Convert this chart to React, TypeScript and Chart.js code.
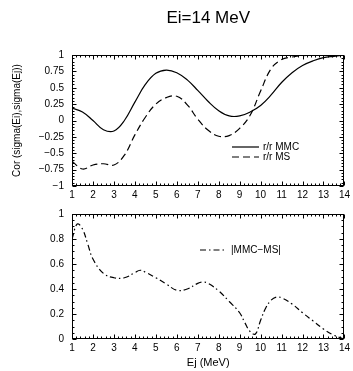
import React, { useEffect, useRef } from "react";
import { Chart, registerables } from "chart.js";

Chart.register(...registerables);

// ---------- data ----------
const TITLE = "Ei=14 MeV";
const Y_TITLE_TOP = "Cor (sigma(Ei),sigma(Ej))";
const X_TITLE = "Ej (MeV)";
const LABEL_MMC = "r/r MMC";
const LABEL_MS = "r/r MS";
const LABEL_DIFF = "|MMC\u2212MS|";

const xTicks = [1, 2, 3, 4, 5, 6, 7, 8, 9, 10, 11, 12, 13, 14];
const yTicksTop = [-1, -0.75, -0.5, -0.25, 0, 0.25, 0.5, 0.75, 1];
const yTicksBottom = [0, 0.2, 0.4, 0.6, 0.8, 1];

const topX = [1, 1.5, 2, 2.5, 3, 3.5, 4, 4.5, 5, 5.5, 6, 6.5, 7, 7.5, 8, 8.5, 9, 9.5, 10, 10.5, 11, 11.5, 12, 12.5, 13, 13.5, 14];
const mmcValues = [0.19, 0.13, 0.0, -0.14, -0.16, 0.0, 0.28, 0.55, 0.72, 0.77, 0.73, 0.62, 0.46, 0.29, 0.15, 0.07, 0.07, 0.13, 0.23, 0.39, 0.58, 0.73, 0.84, 0.91, 0.96, 0.98, 1.0];
const msValues = [-0.62, -0.74, -0.68, -0.66, -0.68, -0.53, -0.22, 0.05, 0.25, 0.35, 0.37, 0.24, 0.02, -0.15, -0.24, -0.23, -0.12, 0.08, 0.45, 0.79, 0.93, 0.97, 0.99, 1.0, 1.0, 1.0, 1.0];

const bottomX = [1, 1.25, 1.5, 1.75, 2, 2.5, 3, 3.5, 4, 4.25, 4.5, 5, 5.5, 6, 6.5, 7, 7.25, 7.5, 8, 8.5, 9, 9.25, 9.5, 9.75, 10, 10.25, 10.5, 10.75, 11, 11.5, 12, 12.5, 13, 13.5, 14];
const diffValues = [0.8, 0.92, 0.88, 0.76, 0.64, 0.525, 0.49, 0.49, 0.53, 0.55, 0.535, 0.49, 0.44, 0.39, 0.4, 0.445, 0.455, 0.445, 0.385, 0.3, 0.21, 0.13, 0.06, 0.04, 0.15, 0.25, 0.31, 0.335, 0.33, 0.28, 0.21, 0.145, 0.08, 0.03, 0.0];

// ---------- styling ----------
const FONT = "'Liberation Sans', Arial, Helvetica, sans-serif";
const INK = "#000";
const DASH_MS = [7, 4];
const DASH_DIFF = [6, 3, 1.5, 3];

Chart.defaults.font.family = FONT;
Chart.defaults.color = INK;

const fmt = (v: number) => String(v).replace("-", "\u2212");

function framePlugin(xMinor: number, yMajor: number, yMinor: number, legend: { label: string; dash: number[]; dx: number; dy: number }[]) {
  return {
    id: "frame",
    afterDatasetsDraw(chart: any) {
      const { ctx, chartArea: a, scales } = chart;
      const xs = scales.x;
      const ys = scales.y;
      ctx.save();
      ctx.strokeStyle = INK;
      ctx.lineWidth = 1;
      ctx.setLineDash([]);
      const L = Math.round(a.left) + 0.5;
      const R = Math.round(a.right) - 0.5;
      const T = Math.round(a.top) + 0.5;
      const B = Math.round(a.bottom) - 0.5;
      ctx.strokeRect(L, T, R - L, B - T);
      ctx.beginPath();
      const nx = Math.round((xs.max - xs.min) / xMinor);
      for (let i = 0; i <= nx; i++) {
        const v = xs.min + i * xMinor;
        const major = Math.abs(v - Math.round(v)) < 1e-6;
        const len = major ? 4 : 2;
        const p = Math.round(xs.getPixelForValue(v)) + 0.5;
        ctx.moveTo(p, B);
        ctx.lineTo(p, B - len);
        ctx.moveTo(p, T);
        ctx.lineTo(p, T + len);
      }
      const ny = Math.round((ys.max - ys.min) / yMinor);
      for (let i = 0; i <= ny; i++) {
        const v = ys.min + i * yMinor;
        const r = v / yMajor;
        const major = Math.abs(r - Math.round(r)) < 1e-6;
        const len = major ? 4 : 2;
        const p = Math.round(ys.getPixelForValue(v)) + 0.5;
        ctx.moveTo(L, p);
        ctx.lineTo(L + len, p);
        ctx.moveTo(R, p);
        ctx.lineTo(R - len, p);
      }
      ctx.stroke();

      // legend
      ctx.font = `10px ${FONT}`;
      ctx.fillStyle = INK;
      ctx.textBaseline = "middle";
      ctx.textAlign = "left";
      legend.forEach((item) => {
        const x0 = a.left + item.dx;
        const y0 = a.top + item.dy;
        ctx.beginPath();
        ctx.lineWidth = 1.2;
        ctx.setLineDash(item.dash);
        ctx.moveTo(x0, y0);
        ctx.lineTo(x0 + 27, y0);
        ctx.stroke();
        ctx.setLineDash([]);
        ctx.fillText(item.label, x0 + 31, y0);
      });
      ctx.restore();
    },
  };
}

function xScale(withTitle: boolean, height: number) {
  return {
    type: "linear",
    min: 1,
    max: 14,
    grid: { display: false, drawTicks: false },
    border: { display: false },
    afterBuildTicks: (s: any) => {
      s.ticks = xTicks.map((v) => ({ value: v }));
    },
    afterFit: (s: any) => {
      s.height = height;
    },
    ticks: { padding: 3, font: { size: 10 }, color: INK, maxRotation: 0, autoSkip: false, callback: (v: any) => fmt(v) },
    title: withTitle
      ? { display: true, text: X_TITLE, font: { size: 11 }, color: INK, padding: { top: 0, bottom: 1.5 } }
      : { display: false },
  };
}

function yScale(ticks: number[], min: number, max: number, title: string | null) {
  return {
    type: "linear",
    min,
    max,
    grid: { display: false, drawTicks: false },
    border: { display: false },
    afterBuildTicks: (s: any) => {
      s.ticks = ticks.map((v) => ({ value: v }));
    },
    afterFit: (s: any) => {
      s.width = 61;
    },
    ticks: { padding: 8, font: { size: 10 }, color: INK, autoSkip: false, callback: (v: any) => fmt(v) },
    title: title
      ? { display: true, text: title, font: { size: 10 }, color: INK, padding: 0 }
      : { display: false },
  };
}

function ChartCanvas({ width, height, config }: { width: number; height: number; config: () => any }) {
  const ref = useRef<HTMLCanvasElement | null>(null);
  useEffect(() => {
    if (!ref.current) return;
    const chart = new Chart(ref.current, config());
    return () => chart.destroy();
  }, []);
  return <canvas ref={ref} width={width} height={height} style={{ display: "block", width, height }} />;
}

const lineDs = (label: string, xs: number[], ys: number[], dash: number[]) => ({
  label,
  data: xs.map((x, i) => ({ x, y: ys[i] })),
  borderColor: INK,
  backgroundColor: INK,
  borderWidth: 1.2,
  borderDash: dash,
  pointRadius: 0,
  fill: false,
  tension: 0.4,
});

function topConfig() {
  return {
    type: "line",
    data: {
      datasets: [
        lineDs(LABEL_MMC, topX, mmcValues, []),
        lineDs(LABEL_MS, topX, msValues, DASH_MS),
      ],
    },
    options: {
      responsive: false,
      animation: false,
      events: [],
      layout: { padding: { left: 11, right: 7, top: 0, bottom: 0 } },
      plugins: {
        legend: { display: false },
        tooltip: { enabled: false },
        title: {
          display: true,
          text: TITLE,
          fullSize: false,
          color: INK,
          font: { size: 17, weight: "normal" },
          padding: { top: 8, bottom: 26.6 },
        },
      },
      scales: {
        x: xScale(false, 13),
        y: yScale(yTicksTop, -1, 1, Y_TITLE_TOP),
      },
    },
    plugins: [
      framePlugin(0.2, 0.25, 0.05, [
        { label: LABEL_MMC, dash: [], dx: 160, dy: 92 },
        { label: LABEL_MS, dash: DASH_MS, dx: 160, dy: 102 },
      ]),
    ],
  };
}

function bottomConfig() {
  return {
    type: "line",
    data: {
      datasets: [lineDs(LABEL_DIFF, bottomX, diffValues, DASH_DIFF)],
    },
    options: {
      responsive: false,
      animation: false,
      events: [],
      layout: { padding: { left: 11, right: 7, top: 7, bottom: 0 } },
      plugins: {
        legend: { display: false },
        tooltip: { enabled: false },
        title: { display: false },
      },
      scales: {
        x: xScale(true, 32),
        y: yScale(yTicksBottom, 0, 1, null),
      },
    },
    plugins: [framePlugin(0.2, 0.2, 0.05, [{ label: LABEL_DIFF, dash: DASH_DIFF, dx: 128, dy: 36 }])],
  };
}

export default function App() {
  return (
    <div style={{ position: "fixed", left: 0, top: 0, width: 353, height: 371, background: "#fff" }}>
      <div style={{ position: "absolute", left: 0, top: 0 }}>
        <ChartCanvas width={353} height={200} config={topConfig} />
      </div>
      <div style={{ position: "absolute", left: 0, top: 200 }}>
        <ChartCanvas width={353} height={171} config={bottomConfig} />
      </div>
    </div>
  );
}
